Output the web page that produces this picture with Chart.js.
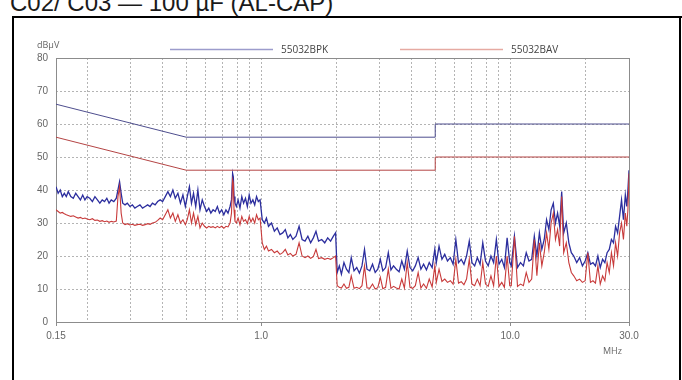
<!DOCTYPE html>
<html>
<head>
<meta charset="utf-8">
<script src="https://cdn.jsdelivr.net/npm/chart.js@4.4.1/dist/chart.umd.min.js"></script>
<style>
html,body{margin:0;padding:0;background:#fff;}
#wrap{position:relative;width:682px;height:380px;overflow:hidden;background:#fff;}
#title{position:absolute;left:10px;top:-11px;font:24px "Liberation Sans",Arial,sans-serif;color:#1a1a1a;white-space:nowrap;}
#c{position:absolute;left:0;top:0;}
.bk{position:absolute;background:#000;}
</style>
</head>
<body>
<div id="wrap">
  <div id="title">C02/ C03 — 100 µF (AL-CAP)</div>
  <canvas id="c" width="682" height="380"></canvas>
  <div class="bk" style="left:12px;top:16px;width:670px;height:2px;"></div>
  <div class="bk" style="left:12px;top:16px;width:2px;height:364px;"></div>
  <div class="bk" style="left:679px;top:16px;width:2px;height:364px;"></div>
</div>
<script>
// ---- data ----
const freqMHz = [
  0.150,0.153,0.156,0.159,0.162,0.165,0.168,0.172,0.176,0.180,
  0.184,0.188,0.192,0.196,0.200,0.205,0.210,0.215,0.220,0.225,
  0.230,0.235,0.240,0.245,0.250,0.256,0.262,0.266,0.270,0.274,
  0.278,0.284,0.290,0.297,0.304,0.311,0.318,0.326,0.334,0.342,
  0.350,0.358,0.366,0.375,0.384,0.393,0.402,0.412,0.422,0.432,
  0.442,0.452,0.463,0.474,0.485,0.496,
  0.505,0.515,0.525,0.535,0.546,0.557,0.568,0.580,0.592,0.604,
  0.616,0.628,0.641,0.654,0.667,0.680,0.694,0.708,0.722,0.736,
  0.750,0.760,0.768,0.773,0.778,0.785,0.795,0.808,0.822,0.836,
  0.850,0.865,0.880,0.895,0.910,0.926,0.942,0.958,0.974,0.990,
  1.01,1.03,1.05,1.07,1.10,1.13,1.16,1.19,1.22,1.25,
  1.28,1.31,1.34,1.38,1.42,1.46,1.50,1.54,1.58,1.62,
  1.66,1.70,1.75,1.80,1.85,1.90,1.95,1.99,
  2.02,2.06,2.10,2.15,2.20,2.25,2.30,2.36,2.42,2.48,
  2.54,2.60,2.66,2.73,2.80,2.87,2.94,3.01,3.08,3.16,
  3.24,3.32,3.40,3.49,3.58,3.67,3.76,3.86,3.96,4.06,
  4.16,4.27,4.38,4.49,4.61,4.73,4.86,4.98,
  5.05,5.18,5.32,5.46,5.60,5.75,5.90,6.05,6.20,6.36,
  6.52,6.68,6.85,7.02,7.20,7.38,7.57,7.76,7.96,8.16,
  8.37,8.58,8.80,9.02,9.25,9.48,9.72,9.96,
  10.1,10.4,10.7,11.0,11.3,11.6,11.9,12.2,12.5,12.8,
  13.1,13.4,13.7,14.0,14.3,14.6,14.9,15.2,15.5,15.8,
  16.1,16.4,16.8,17.2,17.6,18.0,18.5,19.0,19.5,20.0,
  20.5,21.0,21.5,22.0,22.5,23.0,23.5,24.0,24.5,25.0,
  25.5,26.0,26.5,27.0,27.5,28.0,28.5,29.0,29.4,29.7,
  30.0
];
const peakDb = [
  41,39,40,38,39,38,39.5,38,37.5,39,
  38,37,38.5,37,38,37.5,36.5,38,37,36,
  37,36.5,37.5,36,37,36.5,37.5,40,42.5,39,
  36,35.5,36,35,35.5,34.5,35,35.5,34.5,35,
  35.5,35,36,35.5,36.5,37,36.5,38,39.5,38,
  40,37.5,39,36,38.5,35,
  38,41,36,39,35,40,34,37,35,33.5,
  34.5,33,34,33.5,35,33,34,32.5,34,33,
  35,37,45,44,38,36,35,37,34.5,38,
  36,37.5,35,38.5,36,37,35.5,38,36.5,37,
  31,30,31.5,29,30,27.5,28.5,26.5,27,28,
  25.5,26.5,25,26,29,25,24.5,26,24,25.5,
  27.5,24.5,25,24,25.5,24.5,26,27,
  15,17,14.5,18,16,15,19.5,15.5,16.5,14.8,
  17,22,16,15.5,17.5,15,16,19,15.5,16.5,
  21,15.8,17,16,15.2,18.5,16,21.5,16.5,15.5,
  17,19.5,16,17.5,15.8,18,16.5,22,
  18,23,19,20.5,18.5,19.5,17.5,25,18,19,
  17.5,20,24.5,18,17,19.5,17.5,24,18.5,17,
  20,18,25,17.5,19,16.5,25.5,18,
  17,26,16.5,18,17,21,18.5,19,26,20,
  27,22,25,31,28,34,36,30,33,29,
  39.5,27,30,24,21,20,18,19.5,17,18.5,
  21,17.5,18,17,20,16.5,19,18,21,22,
  25,24,29,27,32,37,31,38.5,35,40,
  46
];
const avgDb = [
  34,33.5,33,33.2,32.8,32.5,32.3,32,32.2,31.8,
  31.5,31.7,31.3,31.5,31.2,31,31.3,30.8,30.9,30.5,
  30.7,30.4,30.6,30.2,30.5,30.3,30.6,38,41,33,
  30,29.5,29.8,29.4,29.6,29.3,29.5,29.6,29.3,29.5,
  29.8,29.6,30,30.2,30.8,31.5,31,32.5,34,31.5,
  33,30.5,32.5,30,31,29.5,
  31,34,30,33,29.5,32,28.5,30,29,28.5,
  29,28.7,28.9,28.5,29,28.6,29,28.4,29,28.8,
  30,33,43,42,34,30.5,30,31.5,29.5,32,
  30.5,31,29.8,32,30.3,31.5,30,32.5,31,31.5,
  24,22,23,21.5,22,21,21.5,20.5,21,22,
  20.3,20.8,20,20.5,24,20,19.5,20,19.3,19.8,
  22,19.2,19.5,19,19.3,19,19.5,20,
  11,10.5,10.3,11.5,10.2,10.5,14,10.2,10.5,10.1,
  11,17,10.4,10.2,11.5,10,10.4,13.5,10.1,10.5,
  16,10.2,10.8,10.3,10,13,10.3,18,10.5,10.2,
  11,15,10.3,11.5,10.2,13,10.6,17,
  12,16,12.3,13,12,12.5,11.5,19,11.8,12.2,
  11.3,13,19,11.5,11,13,11,18,11.5,10.8,
  14,11,20,10.8,12,10.5,20,11,
  11,26,10.8,11.5,11,15,12,13,25,14,
  24,17,21,27,22,30,33,25,28,23,
  38,21,24,18,15,14,12.5,13,12,12.5,
  21,12,12.5,11.8,17,11.5,14,12.5,18,15,
  21,17,24,20,27,30,25,33,29,34,
  45
];
const limitFreqMHz = [0.15, 0.5, 5, 5, 30];
const qpLimitDb   = [66, 56, 56, 60, 60];
const avLimitDb   = [56, 46, 46, 50, 50];
const legendLabels = ['55032BPK', '55032BAV'];
const xTickValues = [0.15,0.2,0.3,0.4,0.5,0.6,0.7,0.8,0.9,1,2,3,4,5,6,7,8,9,10,20,30];
const xTickLabels = ['0.15','','','','','','','','','1.0','','','','','','','','','10.0','','30.0'];
const yTickValues = [0,10,20,30,40,50,60,70,80];
const yUnit = 'dBµV';
const xUnit = 'MHz';

const toPts = (xs, ys) => xs.map((x, i) => ({x: x, y: ys[i]}));
const isLabeled = v => { const i = xTickValues.findIndex(t => Math.abs(t - v) < 1e-9); return i >= 0 && xTickLabels[i] !== ''; };
const isEdgeX = v => Math.abs(v - 0.15) < 1e-9 || Math.abs(v - 30) < 1e-9;

const framePlugin = {
  id: 'frame',
  beforeDatasetsDraw(chart) {
    const {ctx, chartArea: a} = chart;
    ctx.save();
    ctx.strokeStyle = '#8c8c8c';
    ctx.lineWidth = 1;
    ctx.strokeRect(Math.round(a.left) + 0.5, Math.round(a.top) + 0.5,
                   Math.round(a.right - a.left), Math.round(a.bottom - a.top));
    ctx.restore();
  },
  afterDraw(chart) {
    const {ctx} = chart;
    ctx.save();
    ctx.fillStyle = '#666';
    ctx.font = '9px "Open Sans", "Liberation Sans", sans-serif';
    ctx.textBaseline = 'middle';
    ctx.textAlign = 'left';
    ctx.fillText(yUnit, 37, 45);
    ctx.fillText(xUnit, 603, 351);
    // legend
    const items = chart.data.datasets.filter(d => d.legendText);
    const lx = [170, 400];
    ctx.font = '10px "Open Sans", "Liberation Sans", sans-serif';
    items.forEach((d, i) => {
      ctx.strokeStyle = d.legendColor;
      ctx.lineWidth = 1.5;
      ctx.beginPath();
      ctx.moveTo(lx[i], 49.5);
      ctx.lineTo(lx[i] + 103, 49.5);
      ctx.stroke();
      ctx.fillStyle = '#444';
      ctx.fillText(d.legendText, lx[i] + 111, 50);
    });
    ctx.restore();
  }
};

new Chart(document.getElementById('c'), {
  type: 'line',
  data: {
    datasets: [
      { label: 'QP limit', legendText: legendLabels[0], legendColor: '#9c9ccc',
        data: toPts(limitFreqMHz, qpLimitDb), borderColor: '#4e4e8e', borderWidth: 1, pointRadius: 0, order: 0 },
      { label: 'AV limit', legendText: legendLabels[1], legendColor: '#e6aaa2',
        data: toPts(limitFreqMHz, avLimitDb), borderColor: '#b44444', borderWidth: 1, pointRadius: 0, order: 1 },
      { label: 'Peak', data: toPts(freqMHz, peakDb), borderColor: '#2c2e9e', borderWidth: 1.3, pointRadius: 0, order: 3 },
      { label: 'Average', data: toPts(freqMHz, avgDb), borderColor: '#c83a3a', borderWidth: 1.1, pointRadius: 0, order: 2 }
    ]
  },
  options: {
    responsive: false,
    animation: false,
    devicePixelRatio: 1,
    layout: { padding: { left: 0, right: 53, top: 58, bottom: 0 } },
    plugins: { legend: { display: false }, tooltip: { enabled: false } },
    elements: { line: { tension: 0 } },
    scales: {
      x: {
        type: 'logarithmic', min: 0.15, max: 30,
        afterBuildTicks: s => { s.ticks = xTickValues.map(v => ({value: v})); },
        afterFit: s => { s.height = 58; },
        ticks: {
          autoSkip: false, maxRotation: 0, padding: 4,
          color: '#666', font: { family: '"Liberation Sans", Arial, sans-serif', size: 10 },
          callback: (v) => { const i = xTickValues.findIndex(t => Math.abs(t - v) < 1e-9); return i >= 0 ? xTickLabels[i] : ''; }
        },
        grid: {
          color: c => (c.tick && isEdgeX(c.tick.value)) ? 'rgba(0,0,0,0)' : '#b4b4b4',
          tickColor: c => (c.tick && isLabeled(c.tick.value)) ? '#8c8c8c' : 'rgba(0,0,0,0)',
          tickLength: 4, lineWidth: 1
        },
        border: { display: false, dash: [2, 2] }
      },
      y: {
        min: 0, max: 80,
        afterBuildTicks: s => { s.ticks = yTickValues.map(v => ({value: v})); },
        afterFit: s => { s.width = 56; },
        ticks: {
          padding: 8, color: '#666',
          font: { family: '"Liberation Sans", Arial, sans-serif', size: 10 }
        },
        grid: {
          drawTicks: false,
          color: c => (c.tick && (c.tick.value === 0 || c.tick.value === 80)) ? 'rgba(0,0,0,0)' : '#b4b4b4',
          lineWidth: 1
        },
        border: { display: false, dash: [2, 2] }
      }
    }
  },
  plugins: [framePlugin]
});
</script>
</body>
</html>
